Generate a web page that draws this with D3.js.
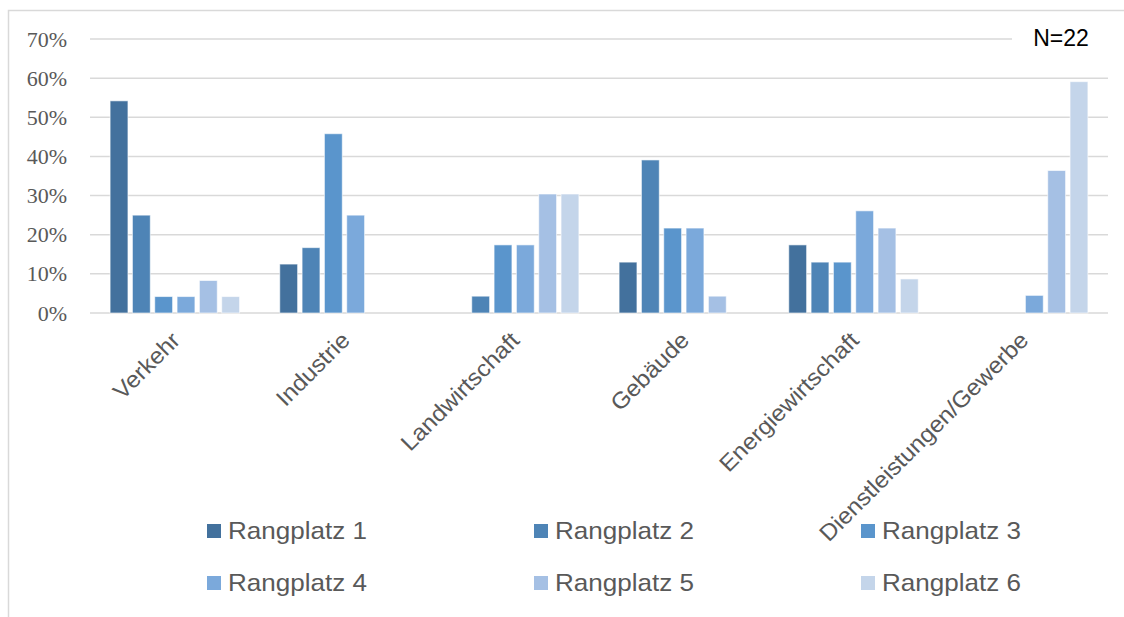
<!DOCTYPE html>
<html>
<head>
<meta charset="utf-8">
<script src="https://cdn.jsdelivr.net/npm/d3@7/dist/d3.min.js"></script>
<style>
  html, body { margin: 0; padding: 0; background: #fff; }
  svg { display: block; }
</style>
</head>
<body>
<div id="chart"></div>
<script>
/* Rangplätze der Sektoren — Anteile in % */
var categories = ['Verkehr', 'Industrie', 'Landwirtschaft', 'Gebäude', 'Energiewirtschaft', 'Dienstleistungen/Gewerbe'];
var series = ['Rangplatz 1', 'Rangplatz 2', 'Rangplatz 3', 'Rangplatz 4', 'Rangplatz 5', 'Rangplatz 6'];
var rang1 = [54.2, 12.5, 0, 13.0, 17.4, 0];
var rang2 = [25.0, 16.7, 4.3, 39.1, 13.0, 0];
var rang3 = [4.2, 45.8, 17.4, 21.7, 13.0, 0];
var rang4 = [4.2, 25.0, 17.4, 21.7, 26.1, 4.5];
var rang5 = [8.3, 0, 30.4, 4.3, 21.7, 36.4];
var rang6 = [4.2, 0, 30.4, 0, 8.7, 59.1];
var yTicks = [0, 10, 20, 30, 40, 50, 60, 70];
var note = 'N=22';

(function () {
  'use strict';

  var W = 1124, H = 617;
  var colors = ['#43719d', '#4e84b6', '#5a95cc', '#7ba9db', '#a5c0e4', '#c4d5ea'];
  var values = [rang1, rang2, rang3, rang4, rang5, rang6];

  var svg = d3.select('#chart').append('svg')
    .attr('width', W).attr('height', H);

  /* --- Rahmen ---------------------------------------------------------- */
  svg.append('rect')
    .attr('x', 8.5).attr('y', 10.5).attr('width', W + 10).attr('height', H + 10)
    .attr('fill', '#fff').attr('stroke', '#d9d9d9').attr('stroke-width', 1.5);

  /* --- Skalen ---------------------------------------------------------- */
  var x0 = d3.scaleBand().domain(categories).range([90, 1108]);
  var x1 = d3.scaleBand().domain(series).range([0, x0.bandwidth()])
    .paddingInner(0.2).paddingOuter(0.9);
  var y = d3.scaleLinear().domain([0, 70]).range([313, 39]);

  /* --- Gitterlinien ---------------------------------------------------- */
  svg.append('g')
    .selectAll('line').data(yTicks).join('line')
    .attr('x1', 90).attr('x2', 1108)
    .attr('y1', function (d) { return y(d); })
    .attr('y2', function (d) { return y(d); })
    .attr('stroke', '#d9d9d9').attr('stroke-width', 1.5);

  /* --- y-Achse --------------------------------------------------------- */
  var yAxis = svg.append('g')
    .attr('transform', 'translate(67,0)')
    .call(d3.axisLeft(y).tickValues(yTicks).tickSize(0).tickPadding(0)
      .tickFormat(function (d) { return d + '%'; }));
  yAxis.select('.domain').remove();
  yAxis.selectAll('text')
    .attr('font-family', '"Liberation Serif", "Times New Roman", serif')
    .attr('font-size', 22).attr('fill', '#595959');

  /* --- Balken ---------------------------------------------------------- */
  var groups = svg.append('g')
    .selectAll('g').data(categories).join('g')
    .attr('transform', function (d) { return 'translate(' + x0(d) + ',0)'; });

  groups.selectAll('rect')
    .data(function (c, ci) {
      return series.map(function (s, si) { return { s: s, si: si, v: values[si][ci] }; });
    })
    .join('rect')
    .filter(function (d) { return d.v > 0; })
    .attr('x', function (d) { return x1(d.s); })
    .attr('y', function (d) { return y(d.v); })
    .attr('width', x1.bandwidth())
    .attr('height', function (d) { return y(0) - y(d.v); })
    .attr('fill', function (d) { return colors[d.si]; })
    .attr('stroke', '#ffffff').attr('stroke-opacity', 0.6).attr('stroke-width', 1);

  /* --- Kategorie-Beschriftung ----------------------------------------- */
  svg.append('g')
    .selectAll('text').data(categories).join('text')
    .attr('transform', function (d) {
      return 'translate(' + (x0(d) + x0.bandwidth() / 2 + 1) + ',336) rotate(-45) scale(1.055,1)';
    })
    .attr('text-anchor', 'end')
    .attr('dy', '0.35em')
    .attr('font-family', '"Liberation Sans", Arial, sans-serif')
    .attr('font-size', 23).attr('fill', '#595959')
    .text(function (d) { return d; });

  /* --- N-Hinweis ------------------------------------------------------- */
  svg.append('rect')
    .attr('x', 1012).attr('y', 22).attr('width', 100).attr('height', 34)
    .attr('fill', '#fff');
  svg.append('text')
    .attr('x', 1061).attr('y', 46)
    .attr('text-anchor', 'middle')
    .attr('font-family', '"Liberation Sans", Arial, sans-serif')
    .attr('font-size', 23).attr('fill', '#000')
    .text(note);

  /* --- Legende --------------------------------------------------------- */
  var legend = svg.append('g')
    .selectAll('g').data(series).join('g')
    .attr('transform', function (d, i) {
      return 'translate(' + (207 + (i % 3) * 327) + ',' + (531 + Math.floor(i / 3) * 52) + ')';
    });
  legend.append('rect')
    .attr('x', 0).attr('y', -7).attr('width', 14).attr('height', 14)
    .attr('fill', function (d, i) { return colors[i]; });
  legend.append('text')
    .attr('transform', 'translate(21,0) scale(1.085,1)')
    .attr('dy', '0.35em')
    .attr('font-family', '"Liberation Sans", Arial, sans-serif')
    .attr('font-size', 24).attr('fill', '#595959')
    .text(function (d) { return d; });
})();
</script>
</body>
</html>
